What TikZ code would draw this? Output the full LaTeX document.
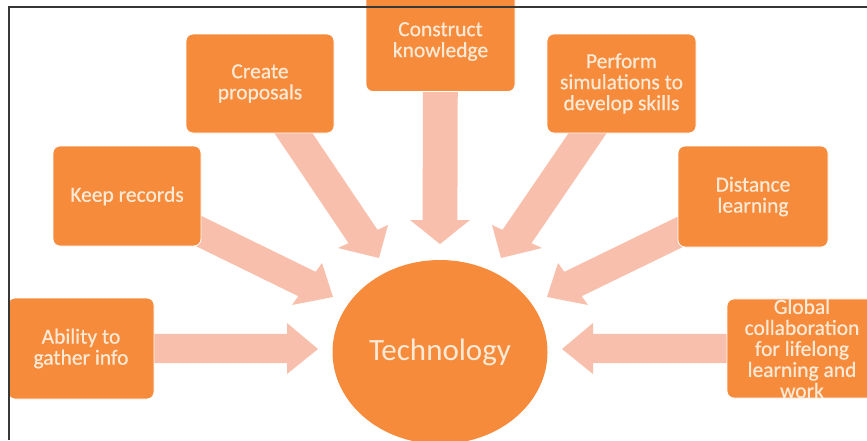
\documentclass[tikz,border=0pt]{standalone}
\usepackage{fontspec}
\setmainfont{Carlito}
\newfontfamily\boxfont[FakeBold=0.6]{Carlito}
\usetikzlibrary{calc,shapes.geometric,backgrounds}
\definecolor{boxorange}{RGB}{246,139,60}
\definecolor{arrowpink}{RGB}{248,192,172}
\definecolor{textcream}{RGB}{252,234,214}
\definecolor{borderdark}{RGB}{55,55,55}
% #1 start node, #2 tip, #3 barb one, #4 barb two, #5 shaft/head width ratio
\newcommand\myblockarrow[5]{%
  \coordinate (tmpPa) at (#3);
  \coordinate (tmpPb) at (#4);
  \coordinate (tmpB) at ($(tmpPa)!0.5!(tmpPb)$);
  \coordinate (tmpJa) at ($(tmpB)!#5!(tmpPa)$);
  \coordinate (tmpJb) at ($(tmpB)!#5!(tmpPb)$);
  \fill[arrowfill] ($(#1)+(tmpJa)-(tmpB)$) -- (tmpJa) -- (tmpPa) -- (#2) -- (tmpPb) -- (tmpJb) -- ($(#1)+(tmpJb)-(tmpB)$) -- cycle;
}
\begin{document}
\begin{tikzpicture}[x=1pt,y=-1pt,
  tbox/.style={rectangle, rounded corners=7pt, fill=boxorange, draw=white, line width=0.8pt,
    text=textcream, font=\boxfont\fontsize{21.5}{21}\selectfont, align=center, inner sep=0pt,
    minimum width=148pt, minimum height=100pt},
  arrowfill/.style={fill=arrowpink},
  borderline/.style={draw=borderdark, line width=1.1pt}]
\useasboundingbox (0,0) rectangle (867,440);
\begin{scope}[on background layer]
  \fill[white] (0,0) rectangle (867,440);
\end{scope}
\clip (0,0) rectangle (867,440);

% boxes
\node[tbox, minimum width=146pt, minimum height=101pt] (ab) at (81,348.5) {Ability to\\gather info};
\node[tbox] (kr) at (127,196) {Keep records};
\node[tbox, minimum height=99pt] (cp) at (260,83.5) {Create\\proposals};
\node[tbox, minimum width=149pt] (ck) at (440.5,41.5) {Construct\\knowledge};
\node[tbox, minimum width=149pt, minimum height=99pt] (ps) at (621.5,83.5) {Perform\\simulations to\\develop skills};
\node[tbox, minimum width=150pt, minimum height=101pt] (dl) at (753,196.5) {Distance\\learning};
\node[tbox, minimum width=150pt, minimum height=99pt] (gl) at (802,348.5) {Global\\collaboration\\for lifelong\\learning and\\work};

% centre
\node[ellipse, fill=boxorange, minimum width=215pt, minimum height=184pt, inner sep=0pt,
  text=textcream, font=\fontsize{31}{36}\selectfont] (tech) at (440,352) {Technology};

% block arrows (under the boxes)
\begin{scope}[on background layer]
  \myblockarrow{ab}{318,349}{287,323}{287,374}{0.57}
  \myblockarrow{gl}{562,349}{593,323}{593,374}{0.57}
  \myblockarrow{kr}{333,297}{322,263}{292,305}{0.58}
  \myblockarrow{dl}{547,297}{558,263}{588,305}{0.58}
  \myblockarrow{cp}{379,258}{338,248}{388,225}{0.58}
  \myblockarrow{ps}{501,258}{542,248}{492,225}{0.58}
  \myblockarrow{ck}{440,244}{410,220}{470,220}{0.58}
\end{scope}

% frame
\draw[borderline] (9,440) -- (9,7) -- (867,7);
\end{tikzpicture}
\end{document}
